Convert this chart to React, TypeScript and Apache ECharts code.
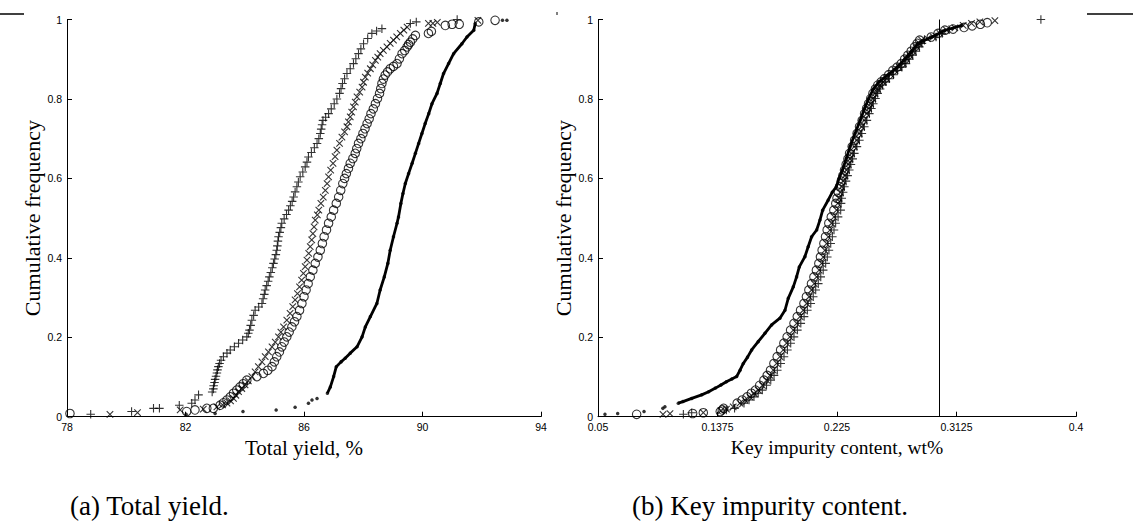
import React, { useEffect, useRef } from "react";
import * as echarts from "echarts";

// ---------- axis ticks ----------
const yieldTicks = [78, 82, 86, 90, 94];
const impurityTicks = [0.05, 0.1375, 0.225, 0.3125, 0.4];
const freqTicks = [0, 0.2, 0.4, 0.6, 0.8, 1];
const impurityLimit = 0.3;

// ---------- panel (a): total yield, [value, cumulative frequency] ----------
const yieldPlus: number[][] = [
  [78.8, 0.006], [80.18, 0.013], [80.92, 0.021], [81.12, 0.021], [81.79, 0.029], [82.21, 0.034],
  [82.32, 0.042], [82.44, 0.055], [82.9, 0.062], [82.94, 0.07], [82.95, 0.078], [82.98, 0.086],
  [83.0, 0.094], [83.03, 0.102], [83.06, 0.11], [83.08, 0.118], [83.11, 0.126], [83.15, 0.134],
  [83.2, 0.142], [83.28, 0.151], [83.4, 0.16], [83.51, 0.168], [83.65, 0.176], [83.79, 0.185],
  [83.93, 0.193], [84.07, 0.201], [84.12, 0.21], [84.16, 0.218], [84.2, 0.23], [84.24, 0.243],
  [84.3, 0.255], [84.35, 0.268], [84.47, 0.276], [84.58, 0.285], [84.62, 0.297], [84.66, 0.308],
  [84.69, 0.319], [84.74, 0.33], [84.79, 0.341], [84.83, 0.352], [84.88, 0.363], [84.93, 0.375],
  [84.97, 0.386], [85.01, 0.397], [85.05, 0.408], [85.08, 0.419], [85.1, 0.43], [85.12, 0.442],
  [85.14, 0.453], [85.18, 0.464], [85.22, 0.476], [85.25, 0.487], [85.33, 0.498], [85.41, 0.509],
  [85.48, 0.52], [85.54, 0.531], [85.6, 0.542], [85.65, 0.553], [85.7, 0.566], [85.76, 0.579],
  [85.81, 0.591], [85.87, 0.604], [85.96, 0.616], [86.04, 0.629], [86.1, 0.641], [86.15, 0.654],
  [86.25, 0.665], [86.35, 0.677], [86.44, 0.688], [86.5, 0.7], [86.55, 0.713], [86.58, 0.724],
  [86.61, 0.735], [86.64, 0.746], [86.73, 0.754], [86.83, 0.763], [86.92, 0.775], [87.02, 0.788],
  [87.11, 0.8], [87.2, 0.814], [87.25, 0.826], [87.3, 0.839], [87.37, 0.851], [87.45, 0.864],
  [87.56, 0.876], [87.67, 0.889], [87.75, 0.901], [87.84, 0.914], [87.92, 0.926], [88.01, 0.939],
  [88.15, 0.952], [88.29, 0.965], [88.45, 0.971], [88.63, 0.977], [89.59, 0.99], [89.79, 0.994],
  [91.17, 1.0],
];
const yieldCross: number[][] = [
  [79.45, 0.006], [80.38, 0.01], [81.82, 0.017], [82.6, 0.019], [83.06, 0.025], [83.25, 0.03],
  [83.4, 0.034], [83.52, 0.04], [83.62, 0.046], [83.7, 0.054], [83.79, 0.063], [83.9, 0.071],
  [84.01, 0.08], [84.12, 0.09], [84.24, 0.101], [84.35, 0.113], [84.46, 0.126], [84.58, 0.138],
  [84.69, 0.151], [84.8, 0.163], [84.92, 0.176], [85.03, 0.188], [85.14, 0.201], [85.22, 0.213],
  [85.31, 0.226], [85.42, 0.243], [85.53, 0.26], [85.62, 0.277], [85.7, 0.294], [85.78, 0.31],
  [85.85, 0.327], [85.92, 0.344], [85.98, 0.361], [86.04, 0.378], [86.1, 0.394], [86.16, 0.411],
  [86.21, 0.428], [86.26, 0.445], [86.3, 0.461], [86.34, 0.478], [86.38, 0.495], [86.45, 0.508],
  [86.5, 0.52], [86.57, 0.537], [86.65, 0.553], [86.72, 0.57], [86.78, 0.587], [86.83, 0.604],
  [86.9, 0.621], [86.98, 0.638], [87.05, 0.655], [87.11, 0.671], [87.2, 0.688], [87.28, 0.704],
  [87.37, 0.717], [87.45, 0.73], [87.5, 0.742], [87.56, 0.755], [87.61, 0.767], [87.67, 0.78],
  [87.73, 0.792], [87.79, 0.805], [87.88, 0.817], [87.96, 0.83], [88.01, 0.842], [88.07, 0.855],
  [88.15, 0.865], [88.24, 0.876], [88.32, 0.886], [88.41, 0.897], [88.49, 0.905], [88.57, 0.914],
  [88.68, 0.922], [88.8, 0.931], [88.91, 0.94], [89.02, 0.948], [89.13, 0.956], [89.25, 0.965],
  [89.37, 0.973], [89.48, 0.981], [90.2, 0.99], [90.35, 0.99], [90.5, 0.993], [91.87, 0.998],
];
const yieldCircle: number[][] = [
  [78.1, 0.008], [82.04, 0.013], [82.32, 0.017], [82.72, 0.021], [82.94, 0.021], [83.17, 0.029],
  [83.28, 0.035], [83.4, 0.042], [83.51, 0.05], [83.62, 0.059], [83.73, 0.067], [83.84, 0.075],
  [83.95, 0.083], [84.07, 0.092], [84.41, 0.101], [84.63, 0.109], [84.78, 0.117], [84.92, 0.126],
  [85.0, 0.138], [85.08, 0.151], [85.17, 0.163], [85.25, 0.176], [85.33, 0.188], [85.42, 0.201],
  [85.5, 0.213], [85.59, 0.226], [85.68, 0.239], [85.76, 0.252], [85.85, 0.268], [85.93, 0.285],
  [86.0, 0.302], [86.07, 0.319], [86.14, 0.335], [86.21, 0.352], [86.3, 0.369], [86.38, 0.386],
  [86.47, 0.402], [86.55, 0.419], [86.62, 0.436], [86.68, 0.453], [86.76, 0.47], [86.83, 0.487],
  [86.92, 0.503], [87.0, 0.52], [87.09, 0.537], [87.17, 0.553], [87.24, 0.57], [87.31, 0.587],
  [87.37, 0.6], [87.43, 0.612], [87.5, 0.625], [87.56, 0.638], [87.65, 0.65], [87.73, 0.663],
  [87.78, 0.675], [87.84, 0.688], [87.92, 0.7], [87.99, 0.713], [88.06, 0.725], [88.13, 0.738],
  [88.2, 0.75], [88.26, 0.763], [88.34, 0.775], [88.41, 0.788], [88.48, 0.801], [88.55, 0.814],
  [88.59, 0.826], [88.63, 0.839], [88.68, 0.85], [88.74, 0.86], [88.82, 0.868], [88.91, 0.876],
  [89.02, 0.882], [89.14, 0.889], [89.22, 0.901], [89.31, 0.914], [89.4, 0.922], [89.48, 0.931],
  [89.53, 0.937], [89.59, 0.943], [89.67, 0.951], [89.76, 0.96], [90.2, 0.965], [90.3, 0.97],
  [90.77, 0.985], [91.0, 0.988], [91.24, 0.988], [91.9, 0.994], [92.45, 0.998],
];
const yieldDot: number[][] = [
  [82.02, 0.006], [83.0, 0.008], [83.94, 0.013], [85.06, 0.017], [85.7, 0.024], [86.15, 0.034],
  [86.27, 0.042], [86.44, 0.046], [86.79, 0.059], [86.89, 0.075], [87.0, 0.101], [87.09, 0.126],
  [87.25, 0.138], [87.39, 0.147], [87.56, 0.16], [87.79, 0.176], [87.96, 0.201], [88.07, 0.226],
  [88.24, 0.252], [88.46, 0.285], [88.57, 0.319], [88.71, 0.352], [88.83, 0.386], [88.91, 0.419],
  [89.02, 0.453], [89.14, 0.487], [89.19, 0.503], [89.27, 0.537], [89.34, 0.562], [89.42, 0.587],
  [89.53, 0.612], [89.65, 0.638], [89.76, 0.663], [89.87, 0.688], [89.98, 0.713], [90.09, 0.738],
  [90.21, 0.763], [90.32, 0.788], [90.49, 0.814], [90.6, 0.839], [90.71, 0.864], [90.88, 0.889],
  [91.05, 0.914], [91.33, 0.939], [91.5, 0.956], [91.73, 0.973], [91.78, 0.99], [92.7, 0.998],
  [92.85, 0.998],
];

// ---------- panel (b): key impurity content, [value, cumulative frequency] ----------
const impPlus: number[][] = [
  [0.1125, 0.006], [0.1186, 0.01], [0.144, 0.017], [0.15, 0.021], [0.1569, 0.034], [0.1606, 0.042],
  [0.1642, 0.05], [0.1673, 0.059], [0.1703, 0.067], [0.1734, 0.079], [0.1765, 0.092], [0.1789, 0.104],
  [0.1813, 0.117], [0.1838, 0.134], [0.1862, 0.151], [0.1887, 0.168], [0.1911, 0.185], [0.1935, 0.201],
  [0.196, 0.218], [0.1985, 0.235], [0.2009, 0.252], [0.2033, 0.268], [0.2058, 0.285], [0.2076, 0.302],
  [0.2094, 0.319], [0.2113, 0.335], [0.2131, 0.352], [0.2149, 0.369], [0.2167, 0.386], [0.2179, 0.402],
  [0.2191, 0.419], [0.2204, 0.436], [0.2216, 0.453], [0.2228, 0.47], [0.224, 0.487], [0.2258, 0.503],
  [0.2277, 0.52], [0.228, 0.537], [0.2285, 0.55], [0.2295, 0.565], [0.2304, 0.579], [0.2316, 0.593],
  [0.2328, 0.607], [0.234, 0.621], [0.2352, 0.635], [0.2365, 0.649], [0.2377, 0.663], [0.2396, 0.68],
  [0.2414, 0.696], [0.2432, 0.713], [0.245, 0.73], [0.2469, 0.746], [0.2487, 0.763], [0.2502, 0.776],
  [0.2516, 0.788], [0.2532, 0.801], [0.2548, 0.814], [0.2566, 0.825], [0.2584, 0.835], [0.2608, 0.843],
  [0.2633, 0.851], [0.2664, 0.861], [0.2694, 0.872], [0.2725, 0.88], [0.2755, 0.889], [0.278, 0.9],
  [0.2804, 0.91], [0.2828, 0.92], [0.2853, 0.931], [0.2872, 0.94], [0.289, 0.948], [0.2975, 0.956],
  [0.302, 0.965], [0.307, 0.975], [0.3743, 1.0],
];
const impCross: number[][] = [
  [0.0976, 0.006], [0.1027, 0.008], [0.1271, 0.01], [0.14, 0.015], [0.144, 0.019], [0.149, 0.025],
  [0.1539, 0.034], [0.1576, 0.042], [0.1612, 0.05], [0.1643, 0.059], [0.1673, 0.067], [0.1704, 0.079],
  [0.1735, 0.092], [0.1759, 0.104], [0.1783, 0.117], [0.1808, 0.134], [0.1832, 0.151], [0.1857, 0.168],
  [0.1881, 0.185], [0.1905, 0.201], [0.193, 0.218], [0.1955, 0.235], [0.1979, 0.252], [0.2003, 0.268],
  [0.2028, 0.285], [0.2046, 0.302], [0.2064, 0.319], [0.2083, 0.335], [0.2101, 0.352], [0.2119, 0.369],
  [0.2137, 0.386], [0.2149, 0.402], [0.2161, 0.419], [0.2174, 0.436], [0.2186, 0.453], [0.2198, 0.47],
  [0.221, 0.487], [0.2228, 0.503], [0.2247, 0.52], [0.2256, 0.537], [0.2265, 0.55], [0.2275, 0.565],
  [0.2284, 0.579], [0.2296, 0.593], [0.2308, 0.607], [0.232, 0.621], [0.2332, 0.635], [0.2345, 0.649],
  [0.2357, 0.663], [0.2376, 0.68], [0.2394, 0.696], [0.2412, 0.713], [0.243, 0.73], [0.2449, 0.746],
  [0.2467, 0.763], [0.2482, 0.776], [0.2496, 0.788], [0.2512, 0.801], [0.2528, 0.814], [0.2546, 0.825],
  [0.2564, 0.835], [0.2588, 0.843], [0.2613, 0.851], [0.2644, 0.861], [0.2674, 0.872], [0.2705, 0.88],
  [0.2735, 0.889], [0.276, 0.9], [0.2784, 0.91], [0.2808, 0.92], [0.2833, 0.931], [0.2852, 0.94],
  [0.287, 0.948], [0.2912, 0.952], [0.2955, 0.956], [0.3003, 0.965], [0.3052, 0.973], [0.3113, 0.979],
  [0.3174, 0.985], [0.3235, 0.99], [0.3296, 0.994], [0.3406, 0.997],
];
const impCircle: number[][] = [
  [0.0783, 0.006], [0.1193, 0.008], [0.1271, 0.01], [0.1395, 0.013], [0.141, 0.017], [0.142, 0.021],
  [0.1519, 0.034], [0.1556, 0.042], [0.1592, 0.05], [0.1623, 0.059], [0.1653, 0.067], [0.1684, 0.079],
  [0.1715, 0.092], [0.1739, 0.104], [0.1763, 0.117], [0.1788, 0.134], [0.1812, 0.151], [0.1837, 0.168],
  [0.1861, 0.185], [0.1885, 0.201], [0.191, 0.218], [0.1935, 0.235], [0.1959, 0.252], [0.1983, 0.268],
  [0.2008, 0.285], [0.2026, 0.302], [0.2044, 0.319], [0.2063, 0.335], [0.2081, 0.352], [0.2099, 0.369],
  [0.2117, 0.386], [0.2129, 0.402], [0.2141, 0.419], [0.2154, 0.436], [0.2166, 0.453], [0.2178, 0.47],
  [0.219, 0.487], [0.2208, 0.503], [0.2227, 0.52], [0.2241, 0.537], [0.225, 0.55], [0.226, 0.565],
  [0.2269, 0.579], [0.2281, 0.593], [0.2293, 0.607], [0.2305, 0.621], [0.2317, 0.635], [0.233, 0.649],
  [0.2342, 0.663], [0.2361, 0.68], [0.2379, 0.696], [0.2397, 0.713], [0.2415, 0.73], [0.2434, 0.746],
  [0.2452, 0.763], [0.2467, 0.776], [0.2481, 0.788], [0.2497, 0.801], [0.2513, 0.814], [0.2531, 0.825],
  [0.2549, 0.835], [0.2573, 0.843], [0.2598, 0.851], [0.2629, 0.861], [0.2659, 0.872], [0.269, 0.88],
  [0.272, 0.889], [0.2745, 0.9], [0.2769, 0.91], [0.2793, 0.92], [0.2818, 0.931], [0.2837, 0.94],
  [0.2855, 0.948], [0.294, 0.956], [0.299, 0.965], [0.304, 0.973], [0.31, 0.976], [0.318, 0.98],
  [0.324, 0.984], [0.33, 0.988], [0.335, 0.992],
];
const impDot: number[][] = [
  [0.0551, 0.006], [0.0644, 0.008], [0.0837, 0.013], [0.0975, 0.021], [0.099, 0.025], [0.1088, 0.034],
  [0.1122, 0.038], [0.1186, 0.046], [0.1259, 0.055], [0.131, 0.063], [0.136, 0.072], [0.14, 0.08],
  [0.144, 0.088], [0.148, 0.095], [0.1515, 0.101], [0.154, 0.117], [0.1564, 0.134], [0.1595, 0.15],
  [0.1625, 0.168], [0.1673, 0.189], [0.1722, 0.21], [0.1771, 0.231], [0.1832, 0.248], [0.1869, 0.268],
  [0.1893, 0.298], [0.193, 0.327], [0.1954, 0.352], [0.1974, 0.377], [0.2015, 0.403], [0.2039, 0.428],
  [0.2064, 0.453], [0.2101, 0.47], [0.2125, 0.495], [0.2145, 0.52], [0.2185, 0.545], [0.2215, 0.565],
  [0.2245, 0.579], [0.2265, 0.6], [0.229, 0.621], [0.2318, 0.65], [0.2346, 0.68], [0.2382, 0.713],
  [0.2419, 0.746], [0.2452, 0.776], [0.2482, 0.801], [0.2516, 0.825], [0.2558, 0.843], [0.2624, 0.861],
  [0.269, 0.88], [0.2745, 0.9], [0.2795, 0.92], [0.2842, 0.94], [0.2945, 0.956], [0.304, 0.973],
  [0.3165, 0.985],
];

const plusSymbol = "path://M0,5L10,5M5,0L5,10";
const crossSymbol = "path://M0,0L10,10M10,0L0,10";
const SERIF = "'Liberation Serif', 'Times New Roman', serif";
const SANS = "'Liberation Sans', Arial, sans-serif";

function markerSeries(idx: number, plus: number[][], cross: number[][], circle: number[][], dot: number[][], lineFrom: number, lineTo: number) {
  const base = { xAxisIndex: idx, yAxisIndex: idx, silent: true, emphasis: { disabled: true } };
  return [
    { ...base, type: "scatter", data: plus, symbol: plusSymbol, symbolSize: 8.5,
      itemStyle: { color: "#000", borderColor: "#000", borderWidth: 1.1 } },
    { ...base, type: "scatter", data: cross, symbol: crossSymbol, symbolSize: 6.5,
      itemStyle: { color: "#000", borderColor: "#000", borderWidth: 1.1 } },
    { ...base, type: "scatter", data: circle, symbol: "circle", symbolSize: 8.5,
      itemStyle: { color: "rgba(0,0,0,0)", borderColor: "#000", borderWidth: 1.1 } },
    { ...base, type: "line", data: dot.filter((p) => p[1] >= lineFrom && p[1] <= lineTo), showSymbol: false,
      lineStyle: { color: "#000", width: 2.8 } },
    { ...base, type: "scatter", data: dot, symbol: "circle", symbolSize: 3.5,
      itemStyle: { color: "#000" } },
  ];
}

function makeXAxis(idx: number, ticks: number[], name: string, nameSize: number) {
  return {
    type: "value", gridIndex: idx, min: ticks[0], max: ticks[ticks.length - 1],
    name, nameLocation: "middle", nameGap: 14,
    nameTextStyle: { fontFamily: SERIF, fontSize: nameSize, color: "#000" },
    axisLine: { show: true, lineStyle: { color: "#000", width: 1 } },
    axisTick: { show: true, inside: true, length: 5, customValues: ticks, lineStyle: { color: "#000" } },
    axisLabel: { show: true, customValues: ticks, margin: 5, fontFamily: SANS, fontSize: 10.5, color: "#000" },
    splitLine: { show: false },
  };
}
function makeYAxis(idx: number) {
  return {
    type: "value", gridIndex: idx, min: 0, max: 1,
    name: "Cumulative frequency", nameLocation: "middle", nameGap: 18, nameRotate: 90,
    nameTextStyle: { fontFamily: SERIF, fontSize: 22, color: "#000" },
    axisLine: { show: true, lineStyle: { color: "#000", width: 1 } },
    axisTick: { show: true, inside: true, length: 5, customValues: freqTicks, lineStyle: { color: "#000" } },
    axisLabel: { show: true, customValues: freqTicks, margin: 5, fontFamily: SANS, fontSize: 10.5, color: "#000" },
    splitLine: { show: false },
  };
}

export default function App() {
  const ref = useRef<HTMLDivElement>(null);
  useEffect(() => {
    if (!ref.current) return;
    const chart = echarts.init(ref.current, null, { renderer: "svg" });
    const seriesA = markerSeries(0, yieldPlus, yieldCross, yieldCircle, yieldDot, 0.055, 0.99);
    const seriesB = markerSeries(1, impPlus, impCross, impCircle, impDot, 0.03, 0.99);
    (seriesB[0] as any).markLine = {
      silent: true, symbol: ["none", "none"], label: { show: false },
      lineStyle: { color: "#000", width: 1, type: "solid" },
      data: [{ xAxis: impurityLimit }],
    };
    chart.setOption({
      animation: false,
      backgroundColor: "#fff",
      grid: [
        { left: 67, top: 19.5, width: 474, height: 397.2 },
        { left: 598, top: 19.5, width: 478, height: 397.2 },
      ],
      xAxis: [
        makeXAxis(0, yieldTicks, "Total yield, %", 21),
        makeXAxis(1, impurityTicks, "Key impurity content, wt%", 19.5),
      ],
      yAxis: [makeYAxis(0), makeYAxis(1)],
      series: [...seriesA, ...seriesB],
      graphic: [
        { type: "line", shape: { x1: 0, y1: 14, x2: 24, y2: 14 }, style: { stroke: "#000", lineWidth: 1.5 } },
        { type: "line", shape: { x1: 1087, y1: 14, x2: 1133, y2: 14 }, style: { stroke: "#000", lineWidth: 1.5 } },
        { type: "line", shape: { x1: 557, y1: 12, x2: 557, y2: 15 }, style: { stroke: "#000", lineWidth: 1 } },
        { type: "text", x: 70, y: 506, style: { text: "(a) Total yield.", fontFamily: SERIF, fontSize: 27, fill: "#000", verticalAlign: "middle" } },
        { type: "text", x: 632, y: 506, style: { text: "(b) Key impurity content.", fontFamily: SERIF, fontSize: 27, fill: "#000", verticalAlign: "middle" } },
      ],
    });
    return () => chart.dispose();
  }, []);
  return (
    <div
      ref={ref}
      style={{ position: "fixed", left: 0, top: 0, width: 1133, height: 522, background: "#fff" }}
    />
  );
}
